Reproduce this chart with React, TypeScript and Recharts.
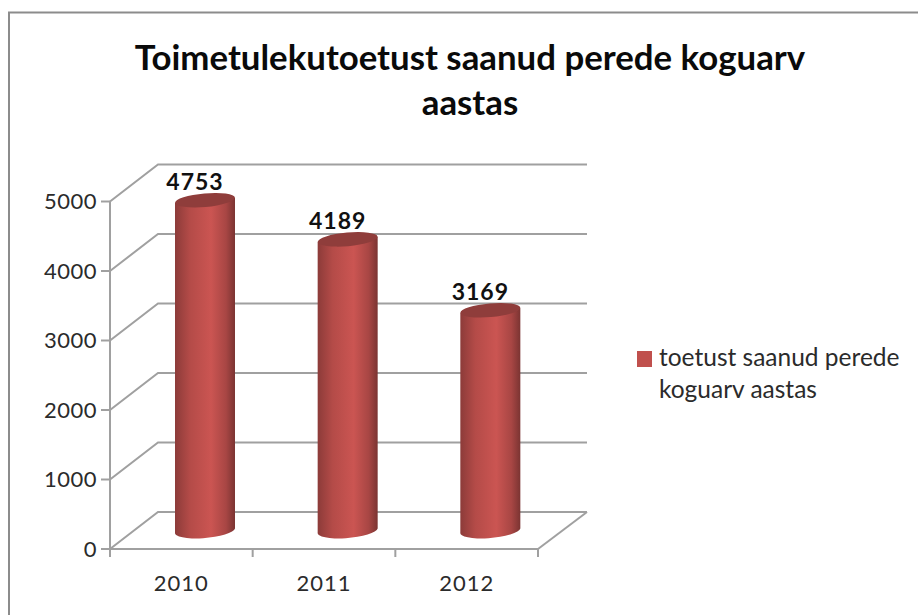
import { BarChart, Bar, XAxis, YAxis, CartesianGrid, LabelList, Legend } from 'recharts';

const years = ['2010', '2011', '2012'];
const families = [4753, 4189, 3169];
const yTicks = [0, 1000, 2000, 3000, 4000, 5000];
const seriesName = 'toetust saanud perede koguarv aastas';
const titleLines = ['Toimetulekutoetust saanud perede koguarv', 'aastas'];

const data = years.map((year, i) => ({ year, value: families[i] }));

const FONT = 'Lato, sans-serif';
const AXIS = '#a0a0a0';
const TEXT = '#2b2b2b';
// 3d look: how far the back wall sits from the front edge
const DEPTH_X = 48;
const DEPTH_Y = 37;
const PLOT = { left: 110, top: 201.5, right: 380, bottom: 66 };
const HALF_BAND = (918 - PLOT.left - PLOT.right) / years.length / 2;

const wallLine = (props: any) => {
    const { x1, y1, x2, y2 } = props;
    const isFloor = y1 > 540;
    return (
        <g key={props.key}>
            <polyline
                fill="none"
                stroke={AXIS}
                strokeWidth={2}
                points={`${x1},${y1} ${x1 + DEPTH_X},${y1 - DEPTH_Y} ${x2 + DEPTH_X + 1},${y1 - DEPTH_Y}`}
            />
            {isFloor && <line x1={x2} y1={y2} x2={x2 + DEPTH_X + 1} y2={y2 - DEPTH_Y} stroke={AXIS} strokeWidth={2} />}
        </g>
    );
};

const Cylinder = (props: any) => {
    const { x, y, width, height } = props;
    const l = x + DEPTH_X / 2;
    const r = l + width;
    const top = y - DEPTH_Y / 2;
    const bottom = top + height;
    const cx = (l + r) / 2;
    const rx = width / 2;
    return (
        <g>
            <path
                d={`M${l},${top + 2.5} L${l},${bottom + 2} A${rx},7.5 -5 0 0 ${r},${bottom - 2} L${r},${top - 2.5} Z`}
                fill="url(#cylinderBody)"
            />
            <ellipse cx={cx} cy={top} rx={rx} ry={6.8} fill="#8f3d3b" transform={`rotate(-5 ${cx} ${top})`} />
        </g>
    );
};

const ValueLabel = (props: any) => {
    const { x, y, width, value } = props;
    return (
        <text
            x={x + width / 2 + 14}
            y={y - 29}
            textAnchor="middle"
            fontFamily={FONT}
            fontWeight={700}
            fontSize={23}
            letterSpacing={1}
            fill="#111"
        >
            {value}
        </text>
    );
};

const YearTick = (props: any) => {
    const { x, y, index, payload } = props;
    return (
        <g>
            <line x1={x - HALF_BAND} y1={PLOT.top + 347.5} x2={x - HALF_BAND} y2={PLOT.top + 355.5} stroke={AXIS} strokeWidth={2} />
            {index === years.length - 1 && (
                <line x1={x + HALF_BAND} y1={PLOT.top + 347.5} x2={x + HALF_BAND} y2={PLOT.top + 355.5} stroke={AXIS} strokeWidth={2} />
            )}
            <text x={x} y={y + 34} textAnchor="middle" fontFamily={FONT} fontSize={22} letterSpacing={1} fill={TEXT}>
                {payload.value}
            </text>
        </g>
    );
};

const LegendBox = ({ payload }: any) => (
    <div style={{ fontFamily: FONT, fontSize: 24.5, lineHeight: '32px', color: TEXT }}>
        {(payload || []).map((entry: any) => (
            <div key={entry.value} style={{ display: 'flex' }}>
                <span style={{ flex: '0 0 15px', height: 16, marginTop: 10, marginRight: 7, background: '#c0504d' }} />
                <span>{entry.value}</span>
            </div>
        ))}
    </div>
);

export default function App() {
    return (
        <div style={{ position: 'absolute', left: 0, top: 0, width: 918, height: 615, background: '#fff' }}>
            <BarChart width={918} height={615} data={data} margin={{ top: PLOT.top, right: PLOT.right, bottom: 0, left: 0 }}>
                <defs>
                    <linearGradient id="cylinderBody" x1="0" y1="0" x2="1" y2="0">
                        <stop offset="0%" stopColor="#8c3b39" />
                        <stop offset="25%" stopColor="#b44b48" />
                        <stop offset="60%" stopColor="#cb5552" />
                        <stop offset="85%" stopColor="#a84644" />
                        <stop offset="100%" stopColor="#7b3432" />
                    </linearGradient>
                </defs>
                <polyline points="9,615 9,12.5 918,12.5" fill="none" stroke="#8c8c8c" strokeWidth={2} />
                <text textAnchor="middle" fontFamily={FONT} fontWeight={700} fontSize={34.8} fill="#0a0a0a">
                    <tspan x={470} y={70}>{titleLines[0]}</tspan>
                    <tspan x={470} y={115}>{titleLines[1]}</tspan>
                </text>
                <CartesianGrid vertical={false} horizontal={wallLine} syncWithTicks />
                <XAxis
                    dataKey="year"
                    height={PLOT.bottom}
                    axisLine={{ stroke: AXIS, strokeWidth: 2 }}
                    tickLine={false}
                    tick={YearTick}
                    interval={0}
                />
                <YAxis
                    width={PLOT.left}
                    domain={[0, 5000]}
                    ticks={yTicks}
                    interval={0}
                    axisLine={{ stroke: AXIS, strokeWidth: 2 }}
                    tickLine={{ stroke: AXIS, strokeWidth: 2 }}
                    tickSize={9}
                    tickMargin={4}
                    tick={{ fontFamily: FONT, fontSize: 22, fill: TEXT, letterSpacing: 0.5 }}
                />
                <Legend
                    layout="vertical"
                    align="center"
                    verticalAlign="middle"
                    wrapperStyle={{ left: 637, top: 341, width: 270 }}
                    content={LegendBox}
                />
                <Bar
                    dataKey="value"
                    name={seriesName}
                    barSize={60}
                    fill="#c0504d"
                    shape={Cylinder}
                    isAnimationActive={false}
                >
                    <LabelList dataKey="value" content={ValueLabel} />
                </Bar>
            </BarChart>
        </div>
    );
}
